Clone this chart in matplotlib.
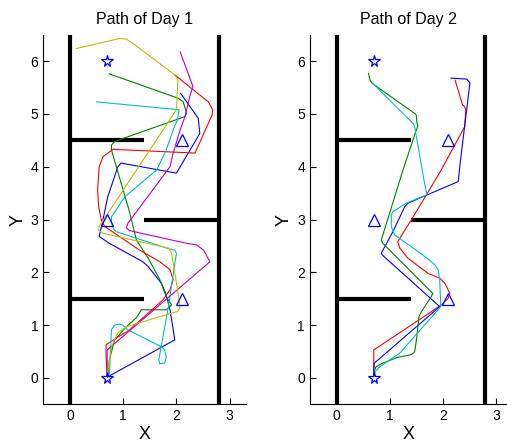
import matplotlib
matplotlib.use('Agg')
import matplotlib.pyplot as plt

plt.rcParams['font.family'] = ['Liberation Sans', 'DejaVu Sans']

# start / goal markers and waypoints (same for both days)
stars_x = [0.7, 0.7]
stars_y = [0.0, 6.0]
tri_x = [2.1, 0.7, 2.1]
tri_y = [4.5, 3.0, 1.5]

# walls: (x0, x1, y0, y1)
walls = [
    (0.0, 0.0, -0.5, 6.5),
    (2.8, 2.8, -0.5, 6.5),
    (0.0, 1.4, 4.5, 4.5),
    (1.4, 2.8, 3.0, 3.0),
    (0.0, 1.4, 1.5, 1.5),
]

# day 1 paths
d1_blue_x = [0.71, 1.97, 1.88, 1.81, 1.72, 1.47, 1.37, 0.74, 0.55, 0.62, 0.71, 0.90, 0.96, 2.00, 2.44, 2.41, 2.08]
d1_blue_y = [0.02, 0.72, 1.29, 1.57, 1.79, 2.11, 2.20, 2.55, 2.68, 2.99, 3.43, 4.00, 4.07, 3.88, 4.63, 4.92, 5.39]

d1_green_x = [0.71, 0.74, 0.84, 1.06, 1.25, 1.34, 1.81, 1.91, 1.81, 1.69, 1.47, 1.25, 1.11, 0.78, 0.78, 0.84, 2.16, 2.19, 2.13, 2.03, 0.74]
d1_green_y = [0.02, 0.34, 0.72, 0.97, 1.14, 1.29, 1.29, 1.38, 1.54, 1.86, 2.27, 2.61, 3.18, 4.32, 4.41, 4.48, 4.95, 5.01, 5.23, 5.30, 5.76]

d1_red_x = [0.70, 0.68, 0.68, 0.96, 1.12, 1.75, 1.88, 1.94, 1.88, 1.69, 1.31, 0.65, 0.59, 0.54, 0.52, 0.55, 0.62, 0.81, 2.35, 2.67, 2.68, 2.60, 1.97]
d1_red_y = [0.02, 0.40, 0.63, 0.81, 0.91, 1.48, 1.67, 1.86, 2.05, 2.20, 2.42, 2.87, 2.99, 3.24, 3.56, 4.00, 4.19, 4.33, 4.26, 4.98, 5.08, 5.23, 5.74]

d1_cyan_x = [0.74, 0.78, 0.84, 0.93, 0.99, 1.09, 1.72, 1.78, 1.81, 1.78, 1.69, 1.67, 1.85, 2.00, 1.97, 1.88, 0.87, 0.81, 0.78, 0.78, 1.03, 1.63, 1.81, 1.94, 2.02, 2.05, 0.50]
d1_cyan_y = [0.02, 0.91, 1.00, 1.02, 1.00, 0.91, 0.59, 0.53, 0.40, 0.28, 0.27, 0.34, 1.35, 2.36, 2.42, 2.44, 2.77, 2.84, 2.96, 3.05, 3.43, 3.94, 4.32, 4.70, 4.89, 5.08, 5.23]

d1_mag_x = [0.70, 0.70, 2.63, 2.51, 2.38, 2.19, 1.12, 1.06, 1.09, 1.88, 1.94, 2.07, 2.12, 2.16, 2.26, 2.31, 2.29, 2.07]
d1_mag_y = [0.04, 0.53, 2.20, 2.42, 2.52, 2.55, 2.79, 2.84, 2.93, 4.00, 4.26, 4.70, 4.83, 4.95, 5.36, 5.52, 5.58, 6.18]

d1_yel_x = [0.71, 0.78, 0.90, 1.06, 1.69, 2.03, 2.07, 1.97, 1.91, 1.85, 0.62, 0.54, 0.55, 2.00, 2.03, 1.97, 1.18, 1.06, 0.93, 0.12]
d1_yel_y = [0.10, 0.59, 0.85, 0.97, 1.16, 1.26, 1.35, 1.99, 2.36, 2.46, 2.74, 2.80, 2.87, 5.08, 5.64, 5.74, 6.34, 6.42, 6.43, 6.24]

# day 2 paths
d2_red_x = [0.70, 0.70, 1.97, 2.10, 2.13, 2.04, 1.94, 1.72, 1.34, 1.19, 1.15, 1.44, 1.97, 2.41, 2.43, 2.41, 2.37, 2.23]
d2_red_y = [0.04, 0.53, 1.38, 1.51, 1.60, 1.79, 1.89, 1.98, 2.27, 2.46, 2.58, 3.05, 3.94, 4.76, 5.08, 5.14, 5.17, 5.64]

d2_blue_x = [0.70, 0.70, 0.71, 1.94, 0.87, 0.84, 1.06, 1.28, 1.34, 2.29, 2.32, 2.50, 2.51, 2.45, 2.15]
d2_blue_y = [0.04, 0.15, 0.28, 1.35, 2.32, 2.36, 2.77, 3.24, 3.31, 3.72, 4.03, 5.52, 5.59, 5.66, 5.68]

d2_green_x = [0.70, 0.71, 0.74, 0.87, 1.15, 1.41, 1.47, 1.51, 1.55, 1.60, 1.78, 1.81, 0.87, 0.84, 1.25, 1.50, 1.53, 1.51, 1.50, 1.47, 0.67, 0.63, 0.60]
d2_green_y = [0.02, 0.12, 0.21, 0.28, 0.39, 0.44, 0.50, 0.78, 1.16, 1.26, 1.54, 1.60, 2.55, 2.61, 3.94, 4.70, 4.77, 4.85, 4.98, 5.01, 5.58, 5.64, 5.77]

d2_cyan_x = [0.71, 0.81, 1.19, 1.96, 1.94, 1.91, 1.85, 1.75, 1.50, 1.09, 1.03, 1.03, 1.06, 1.31, 1.70, 1.66, 1.61, 1.47, 1.44, 0.68]
d2_cyan_y = [0.09, 0.21, 0.47, 1.35, 1.86, 2.05, 2.14, 2.23, 2.42, 2.71, 2.87, 3.09, 3.15, 3.31, 3.47, 3.66, 3.94, 4.76, 4.82, 5.58]

day1_paths = [
    (d1_blue_x, d1_blue_y, 'b'),
    (d1_green_x, d1_green_y, 'g'),
    (d1_red_x, d1_red_y, 'r'),
    (d1_cyan_x, d1_cyan_y, 'c'),
    (d1_mag_x, d1_mag_y, 'm'),
    (d1_yel_x, d1_yel_y, 'y'),
]
day2_paths = [
    (d2_red_x, d2_red_y, 'r'),
    (d2_blue_x, d2_blue_y, 'b'),
    (d2_green_x, d2_green_y, 'g'),
    (d2_cyan_x, d2_cyan_y, 'c'),
]

fig = plt.figure(figsize=(5.07, 4.43), dpi=100)
ax1 = fig.add_axes([0.0854, 0.0874, 0.399, 0.834])
ax2 = fig.add_axes([0.6114, 0.0874, 0.388, 0.834])

for ax, paths, title in [(ax1, day1_paths, 'Path of Day 1'), (ax2, day2_paths, 'Path of Day 2')]:
    for x0, x1, y0, y1 in walls:
        ax.plot([x0, x1], [y0, y1], color='k', linewidth=3, solid_capstyle='butt')
    for px, py, c in paths:
        ax.plot(px, py, color=c, linewidth=0.8)
    ax.plot(stars_x, stars_y, linestyle='none', marker='*', markersize=8.5,
            markerfacecolor='none', markeredgecolor='b', markeredgewidth=0.9)
    ax.plot(tri_x, tri_y, linestyle='none', marker='^', markersize=8.5,
            markerfacecolor='none', markeredgecolor='b', markeredgewidth=0.9)

    ax.set_xlim(-0.5, 3.3 if ax is ax1 else 3.2)
    ax.set_ylim(-0.5, 6.5)
    ax.set_xticks([0, 1, 2, 3])
    ax.set_yticks([0, 1, 2, 3, 4, 5, 6])
    ax.tick_params(direction='in', length=4, labelsize=10, top=False, right=False)
    ax.spines['top'].set_visible(False)
    ax.spines['right'].set_visible(False)
    ax.set_title(title, fontsize=11.5, pad=8)
    ax.set_xlabel('X', fontsize=13, labelpad=2)
    ax.set_ylabel('Y', fontsize=13, labelpad=3)

fig.savefig('out.png', dpi=100)
